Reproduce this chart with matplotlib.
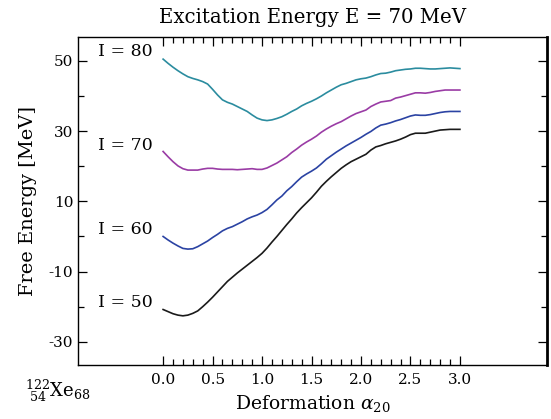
import numpy as np
import matplotlib
matplotlib.use("Agg")
import matplotlib.pyplot as plt
from matplotlib.ticker import FixedLocator

plt.rcParams['font.family'] = ['DejaVu Serif']
plt.rcParams['mathtext.fontset'] = 'dejavuserif'

# deformation grid (alpha_20)
alpha = [0.00, 0.05, 0.10, 0.15, 0.20, 0.25, 0.30, 0.35, 0.40, 0.45,
         0.50, 0.55, 0.60, 0.65, 0.70, 0.75, 0.80, 0.85, 0.90, 0.95,
         1.00, 1.05, 1.10, 1.15, 1.20, 1.25, 1.30, 1.35, 1.40, 1.45,
         1.50, 1.55, 1.60, 1.65, 1.70, 1.75, 1.80, 1.85, 1.90, 1.95,
         2.00, 2.05, 2.10, 2.15, 2.20, 2.25, 2.30, 2.35, 2.40, 2.45,
         2.50, 2.55, 2.60, 2.65, 2.70, 2.75, 2.80, 2.85, 2.90, 2.95,
         3.00]

# free energy (MeV) for each spin
f_i80 = [50.5, 49.3, 48.2, 47.2, 46.3, 45.5, 45.0, 44.6, 44.1, 43.4,
         41.9, 40.3, 38.9, 38.2, 37.7, 37.0, 36.3, 35.6, 34.6, 33.7,
         33.2, 33.0, 33.2, 33.6, 34.1, 34.8, 35.6, 36.3, 37.2, 37.9,
         38.5, 39.2, 40.0, 40.9, 41.7, 42.5, 43.2, 43.6, 44.1, 44.6,
         44.9, 45.1, 45.5, 46.0, 46.4, 46.5, 46.8, 47.2, 47.4, 47.6,
         47.7, 47.9, 47.9, 47.8, 47.7, 47.7, 47.8, 47.9, 48.0, 47.9,
         47.8]
f_i70 = [24.2, 22.7, 21.3, 20.1, 19.3, 18.9, 18.9, 18.9, 19.2, 19.4,
         19.4, 19.2, 19.1, 19.1, 19.1, 19.0, 19.1, 19.2, 19.3, 19.1,
         19.1, 19.5, 20.2, 20.9, 21.8, 22.7, 23.9, 24.9, 26.0, 26.9,
         27.7, 28.6, 29.7, 30.6, 31.4, 32.1, 32.7, 33.5, 34.3, 35.0,
         35.5, 36.0, 37.0, 37.7, 38.3, 38.5, 38.7, 39.4, 39.7, 40.1,
         40.5, 40.9, 40.9, 40.8, 41.0, 41.3, 41.5, 41.7, 41.7, 41.7,
         41.7]
f_i60 = [0.0, -1.0, -1.9, -2.7, -3.4, -3.6, -3.5, -2.9, -2.1, -1.3,
         -0.3, 0.6, 1.6, 2.3, 2.8, 3.5, 4.2, 5.0, 5.6, 6.1,
         6.8, 7.7, 9.0, 10.4, 11.5, 13.0, 14.2, 15.6, 16.9, 17.8,
         18.6, 19.5, 20.7, 22.0, 23.0, 24.0, 24.9, 25.8, 26.6, 27.4,
         28.2, 29.1, 29.9, 30.9, 31.7, 32.0, 32.4, 32.9, 33.3, 33.8,
         34.3, 34.6, 34.5, 34.5, 34.7, 35.0, 35.3, 35.5, 35.6, 35.6,
         35.6]
f_i50 = [-20.8, -21.4, -22.0, -22.4, -22.6, -22.4, -21.9, -21.2, -20.0, -18.7,
         -17.3, -15.8, -14.3, -12.8, -11.6, -10.4, -9.3, -8.2, -7.1, -6.0,
         -4.8, -3.3, -1.6, 0.0, 1.7, 3.4, 5.0, 6.7, 8.2, 9.6,
         11.0, 12.6, 14.3, 15.7, 17.0, 18.2, 19.4, 20.4, 21.3, 22.0,
         22.7, 23.4, 24.6, 25.5, 25.9, 26.4, 26.8, 27.2, 27.7, 28.3,
         29.0, 29.4, 29.4, 29.4, 29.7, 30.0, 30.3, 30.4, 30.5, 30.5,
         30.5]

spins = ['I = 80', 'I = 70', 'I = 60', 'I = 50']
label_y = [52.6, 25.8, 1.9, -18.9]
colors = ['#2b8c9f', '#9a3ca5', '#2b43a3', '#1a1a1a']

fig = plt.figure(figsize=(5.51, 4.19), dpi=100)
ax = fig.add_axes([0.1416, 0.1289, 0.8511, 0.7828])

for ys, c in zip([f_i80, f_i70, f_i60, f_i50], colors):
    ax.plot(alpha, ys, color=c, lw=1.2, solid_joinstyle='round')

for s, yl in zip(spins, label_y):
    ax.text(-0.66, yl, s, fontsize=12.5, va='center', ha='left')

ax.set_xlim(-0.86, 3.88)
ax.set_ylim(-36.6, 56.8)

ax.xaxis.set_major_locator(FixedLocator([0.0, 0.5, 1.0, 1.5, 2.0, 2.5, 3.0]))
ax.xaxis.set_minor_locator(FixedLocator(np.arange(0, 3.01, 0.1)))
ax.yaxis.set_major_locator(FixedLocator([-30, -10, 10, 30, 50]))
ax.yaxis.set_minor_locator(FixedLocator([-20, 0, 20, 40]))
ax.set_xticklabels(['0.0', '0.5', '1.0', '1.5', '2.0', '2.5', '3.0'])
ax.set_yticklabels(['-30', '-10', '10', '30', '50'])

ax.tick_params(which='both', direction='in', top=True, right=True, labelsize=11, width=0.9)
ax.tick_params(which='major', length=6.5)
ax.tick_params(which='minor', length=4)
ax.tick_params(axis='x', pad=6)

for side in ['left', 'bottom', 'top']:
    ax.spines[side].set_linewidth(1.0)
ax.spines['right'].set_linewidth(2.0)

ax.set_title('Excitation Energy E = 70 MeV', fontsize=14.2, pad=10)
ax.set_xlabel(r'Deformation $\alpha_{20}$', fontsize=13.5, labelpad=4)
ax.set_ylabel('Free Energy [MeV]', fontsize=14, labelpad=8)

fig.text(0.045, 0.068, r'${}^{122}_{\ 54}\mathrm{Xe}_{68}$', fontsize=13, va='center')

fig.savefig('out.png', dpi=100)
